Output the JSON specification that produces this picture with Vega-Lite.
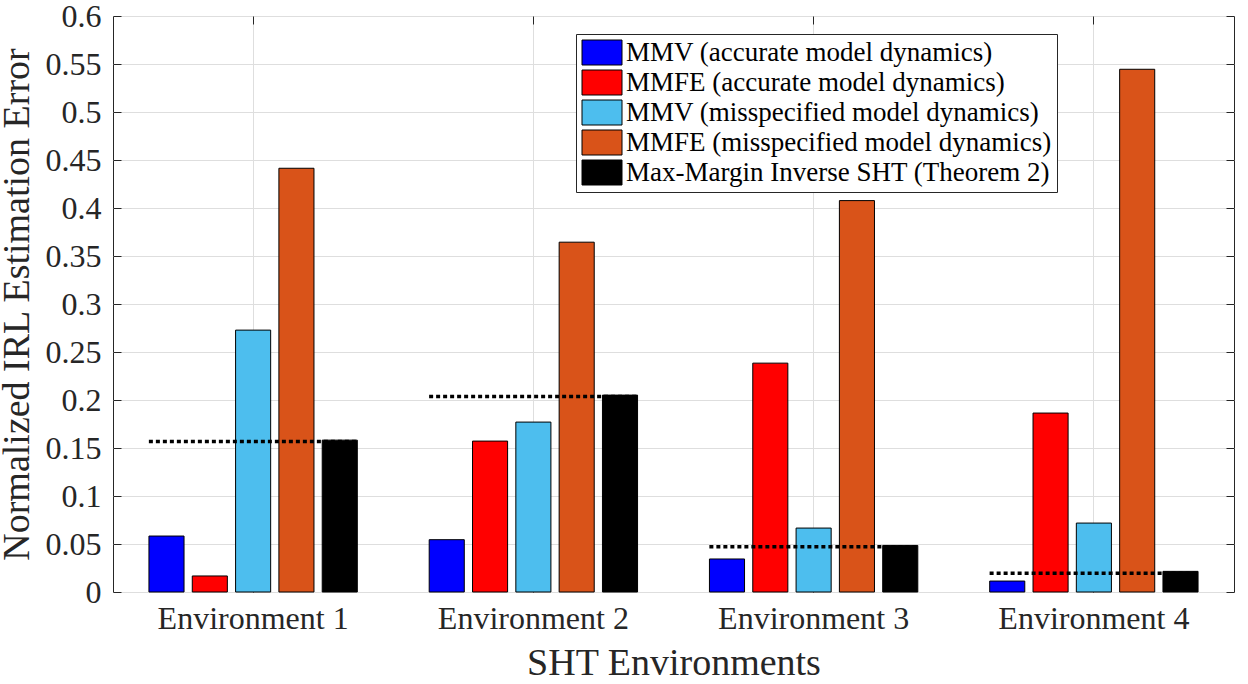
{
  "$schema": "https://vega.github.io/schema/vega-lite/v6.json",
  "width": 1121,
  "height": 576,
  "autosize": {"type": "none"},
  "padding": {"left": 113, "top": 16, "right": 14, "bottom": 92},
  "datasets": {
    "errors": [
      {"env": "Environment 1", "method": "MMV (accurate model dynamics)", "value": 0.0583},
      {"env": "Environment 1", "method": "MMFE (accurate model dynamics)", "value": 0.0167},
      {"env": "Environment 1", "method": "MMV (misspecified model dynamics)", "value": 0.2728},
      {"env": "Environment 1", "method": "MMFE (misspecified model dynamics)", "value": 0.4414},
      {"env": "Environment 1", "method": "Max-Margin Inverse SHT (Theorem 2)", "value": 0.1582},
      {"env": "Environment 2", "method": "MMV (accurate model dynamics)", "value": 0.0545},
      {"env": "Environment 2", "method": "MMFE (accurate model dynamics)", "value": 0.1572},
      {"env": "Environment 2", "method": "MMV (misspecified model dynamics)", "value": 0.177},
      {"env": "Environment 2", "method": "MMFE (misspecified model dynamics)", "value": 0.3644},
      {"env": "Environment 2", "method": "Max-Margin Inverse SHT (Theorem 2)", "value": 0.2051},
      {"env": "Environment 3", "method": "MMV (accurate model dynamics)", "value": 0.0344},
      {"env": "Environment 3", "method": "MMFE (accurate model dynamics)", "value": 0.2384},
      {"env": "Environment 3", "method": "MMV (misspecified model dynamics)", "value": 0.0666},
      {"env": "Environment 3", "method": "MMFE (misspecified model dynamics)", "value": 0.4077},
      {"env": "Environment 3", "method": "Max-Margin Inverse SHT (Theorem 2)", "value": 0.0485},
      {"env": "Environment 4", "method": "MMV (accurate model dynamics)", "value": 0.0114},
      {"env": "Environment 4", "method": "MMFE (accurate model dynamics)", "value": 0.1864},
      {"env": "Environment 4", "method": "MMV (misspecified model dynamics)", "value": 0.0718},
      {"env": "Environment 4", "method": "MMFE (misspecified model dynamics)", "value": 0.5445},
      {"env": "Environment 4", "method": "Max-Margin Inverse SHT (Theorem 2)", "value": 0.0215}
    ],
    "bounds": [
      {"env": "Environment 1", "value": 0.1568},
      {"env": "Environment 2", "value": 0.2036},
      {"env": "Environment 3", "value": 0.0472},
      {"env": "Environment 4", "value": 0.0196}
    ]
  },
  "resolve": {"axis": {"x": "independent", "y": "independent"}},
  "layer": [
    {
      "data": {"name": "errors"},
      "mark": {"type": "bar", "stroke": "#000000", "strokeWidth": 1},
      "encoding": {
        "x": {
          "field": "env",
          "type": "nominal",
          "scale": {"paddingInner": 0, "paddingOuter": 0},
          "axis": {
            "orient": "bottom",
            "title": "SHT Environments",
            "labelAngle": 0,
            "offset": -8,
            "labelPadding": 11,
            "labelLimit": 400,
            "titlePadding": 10,
            "grid": true,
            "ticks": true,
            "bandPosition": 0.5
          }
        },
        "xOffset": {
          "field": "method",
          "type": "nominal",
          "sort": [
            "MMV (accurate model dynamics)",
            "MMFE (accurate model dynamics)",
            "MMV (misspecified model dynamics)",
            "MMFE (misspecified model dynamics)",
            "Max-Margin Inverse SHT (Theorem 2)"
          ],
          "scale": {"paddingInner": 0.19, "paddingOuter": 0.83}
        },
        "y": {
          "field": "value",
          "type": "quantitative",
          "scale": {"domain": [0, 0.6], "nice": false},
          "axis": {
            "orient": "left",
            "title": "Normalized IRL Estimation Error",
            "values": [0, 0.05, 0.1, 0.15, 0.2, 0.25, 0.3, 0.35, 0.4, 0.45, 0.5, 0.55, 0.6],
            "format": "~g",
            "offset": -8,
            "labelPadding": 12,
            "titlePadding": 9,
            "labelFlush": false,
            "labelOverlap": false,
            "ticks": true
          }
        },
        "fill": {
          "field": "method",
          "type": "nominal",
          "scale": {
            "domain": [
              "MMV (accurate model dynamics)",
              "MMFE (accurate model dynamics)",
              "MMV (misspecified model dynamics)",
              "MMFE (misspecified model dynamics)",
              "Max-Margin Inverse SHT (Theorem 2)"
            ],
            "range": ["#0000ff", "#ff0000", "#4dbeee", "#d95319", "#000000"]
          },
          "legend": {
            "title": null,
            "orient": "none",
            "legendX": 463,
            "legendY": 18
          }
        }
      }
    },
    {
      "data": {"name": "bounds"},
      "mark": {"type": "rule", "strokeDash": [4, 3], "strokeWidth": 3.5, "color": "#000000"},
      "encoding": {
        "x": {
          "field": "env",
          "type": "nominal",
          "bandPosition": 0.128,
          "axis": {
            "orient": "top",
            "labels": false,
            "title": null,
            "grid": false,
            "ticks": true,
            "offset": -8,
            "bandPosition": 0.5
          }
        },
        "x2": {"field": "env", "bandPosition": 0.87},
        "y": {
          "field": "value",
          "type": "quantitative",
          "axis": {
            "orient": "right",
            "labels": false,
            "title": null,
            "grid": false,
            "ticks": true,
            "offset": -8,
            "values": [0, 0.05, 0.1, 0.15, 0.2, 0.25, 0.3, 0.35, 0.4, 0.45, 0.5, 0.55, 0.6]
          }
        }
      }
    }
  ],
  "config": {
    "view": {"stroke": "#262626", "strokeWidth": 1},
    "font": "Liberation Serif",
    "axis": {
      "labelFont": "Liberation Serif",
      "titleFont": "Liberation Serif",
      "labelColor": "#262626",
      "titleColor": "#262626",
      "labelFontSize": 32,
      "titleFontSize": 38,
      "titleFontWeight": "normal",
      "domain": false,
      "gridColor": "#dedede",
      "gridWidth": 1,
      "tickColor": "#262626",
      "tickWidth": 1,
      "tickSize": 8
    },
    "legend": {
      "padding": 5,
      "strokeColor": "#262626",
      "fillColor": "#ffffff",
      "symbolType": "M-1,-1H2.2V1H-1Z",
      "symbolSize": 625,
      "symbolStrokeColor": "#000000",
      "symbolStrokeWidth": 1,
      "labelFont": "Liberation Serif",
      "labelFontSize": 27,
      "labelColor": "#000000",
      "labelOffset": 18,
      "labelLimit": 0,
      "rowPadding": 1,
      "cornerRadius": 0
    }
  }
}
